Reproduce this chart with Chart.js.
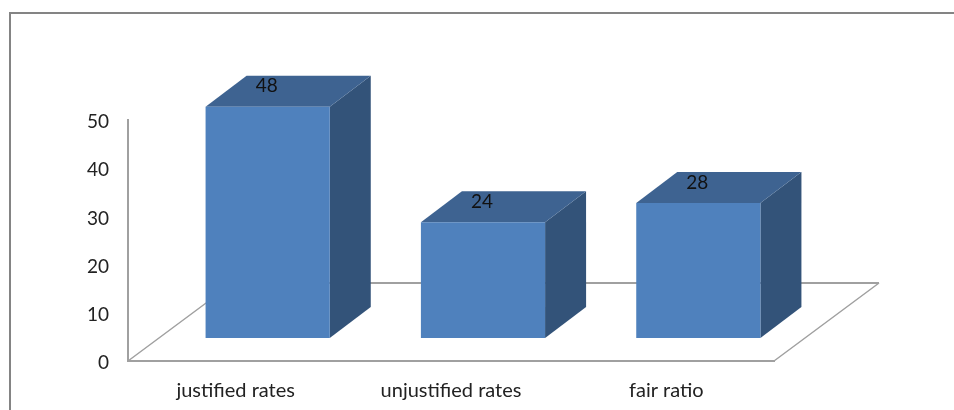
<!DOCTYPE html>
<html>
<head>
<meta charset="utf-8">
<script src="https://cdn.jsdelivr.net/npm/chart.js@4/dist/chart.umd.min.js"></script>
<style>
    html, body { margin: 0; padding: 0; background: #fff; overflow: hidden; }
    #wrap { position: relative; width: 954px; height: 410px; }
    #frame { position: absolute; left: 9px; top: 12px; right: 0; bottom: 0; border-top: 2px solid #848484; border-left: 2px solid #848484; }
    canvas { position: absolute; left: 0; top: 0; }
</style>
</head>
<body>
<div id="wrap">
    <canvas id="chart" width="954" height="410"></canvas>
    <div id="frame"></div>
</div>
<script>
const categories = ['justified rates', 'unjustified rates', 'fair ratio'];
const rates = [48, 24, 28];
const yTicks = [0, 10, 20, 30, 40, 50];

const FONT = 'Lato, "Open Sans", sans-serif';
const AXIS_GREY = '#a0a0a0';

// bars stand partway back on the floor
const barShift = { x: 32, y: -23 };
const barDepth = { x: 41, y: -31 };
const floorDepth = { x: 105, y: -78 };

const poly = (ctx, color, pts) => {
    ctx.fillStyle = color;
    ctx.beginPath();
    pts.forEach((p, i) => i ? ctx.lineTo(p[0], p[1]) : ctx.moveTo(p[0], p[1]));
    ctx.closePath();
    ctx.fill();
};

const box3d = {
    id: 'box3d',
    beforeDatasetsDraw(chart) {
        const { ctx, chartArea: a } = chart;

        // floor outline, the front edge is the x axis border
        ctx.save();
        ctx.strokeStyle = AXIS_GREY;
        ctx.lineWidth = 1.5;
        ctx.beginPath();
        ctx.moveTo(a.left, a.bottom);
        ctx.lineTo(a.left + floorDepth.x, a.bottom + floorDepth.y);
        ctx.moveTo(a.right + floorDepth.x, a.bottom + floorDepth.y);
        ctx.lineTo(a.right, a.bottom);
        ctx.stroke();
        ctx.lineWidth = 2;
        ctx.beginPath();
        ctx.moveTo(a.left + floorDepth.x, a.bottom + floorDepth.y);
        ctx.lineTo(a.right + floorDepth.x, a.bottom + floorDepth.y);
        ctx.stroke();
        ctx.restore();

        // side and top faces, then the library draws the front face on top
        ctx.save();
        ctx.translate(barShift.x, barShift.y);
        chart.getDatasetMeta(0).data.forEach((bar) => {
            const l = bar.x - bar.width / 2;
            const r = bar.x + bar.width / 2;
            poly(ctx, '#335379', [[r, bar.y], [r + barDepth.x, bar.y + barDepth.y], [r + barDepth.x, bar.base + barDepth.y], [r, bar.base]]);
            poly(ctx, '#3e6391', [[l, bar.y], [l + barDepth.x, bar.y + barDepth.y], [r + barDepth.x, bar.y + barDepth.y], [r, bar.y]]);
        });
    },
    afterDatasetsDraw(chart) {
        const { ctx } = chart;
        ctx.restore();

        // value labels sit on the top face
        ctx.save();
        ctx.fillStyle = '#111';
        ctx.font = '19px ' + FONT;
        ctx.textAlign = 'center';
        ctx.textBaseline = 'middle';
        chart.getDatasetMeta(0).data.forEach((bar, i) => {
            ctx.fillText(rates[i], bar.x + barShift.x - 1, bar.y + barShift.y - 20.5);
        });
        ctx.restore();
    }
};

new Chart(document.getElementById('chart'), {
    type: 'bar',
    data: {
        labels: categories,
        datasets: [{
            data: rates,
            backgroundColor: '#4f81bd',
            categoryPercentage: 1,
            barPercentage: 0.5767
        }]
    },
    plugins: [box3d],
    options: {
        responsive: false,
        animation: false,
        layout: { padding: { top: 120, right: 180, left: 0, bottom: 0 } },
        plugins: { legend: { display: false }, tooltip: { enabled: false } },
        scales: {
            x: {
                grid: { display: false, drawTicks: false },
                border: { color: AXIS_GREY, width: 2 },
                ticks: { color: '#222', padding: 18, font: { family: FONT, size: 20 }, maxRotation: 0 },
                afterFit: (scale) => { scale.height = 49; }
            },
            y: {
                min: yTicks[0],
                max: yTicks[yTicks.length - 1],
                grid: { display: false, drawTicks: false },
                border: { color: AXIS_GREY, width: 2 },
                ticks: { color: '#222', padding: 19, stepSize: 10, labelOffset: 2, font: { family: FONT, size: 19 } },
                afterFit: (scale) => { scale.width = 128; }
            }
        }
    }
});
</script>
</body>
</html>
